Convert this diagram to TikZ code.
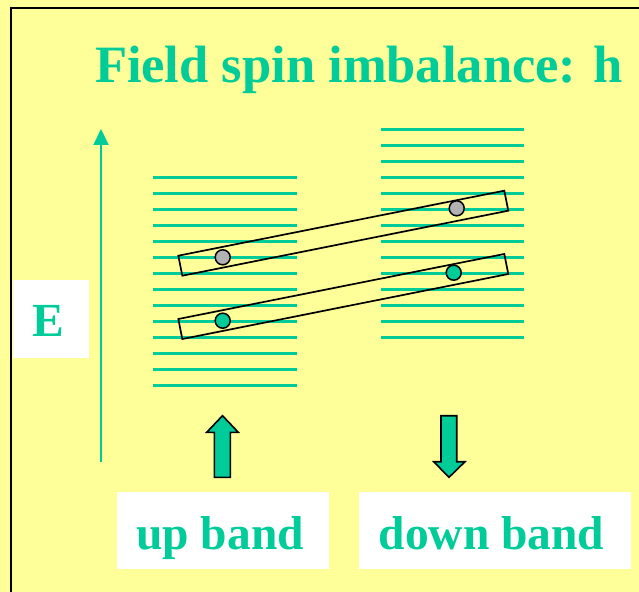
\documentclass[tikz,border=0pt]{standalone}
\usepackage{fontspec}
\setmainfont{Liberation Serif}
\usetikzlibrary{arrows.meta}
\definecolor{bgyellow}{HTML}{FFFF99}
\definecolor{tgreen}{HTML}{00CC99}
\definecolor{dotgray}{HTML}{B2B2B2}
\begin{document}
\begin{tikzpicture}[x=1bp,y=-1bp,
  level/.style={draw=tgreen, line width=2.8bp},
  whitebox/.style={fill=white, draw=none, inner sep=0pt},
  lbl/.style={text=tgreen, font=\fontsize{47.5bp}{50bp}\selectfont\bfseries, inner sep=0pt},
  pairbox/.style={draw=black, line width=1.7bp, rectangle, rotate=11.28, minimum width=332.4bp, minimum height=20.4bp, inner sep=0pt},
  dot/.style={circle, draw=black, line width=1.5bp, minimum size=15bp, inner sep=0pt},
  blockarrow/.style={fill=tgreen, draw=black, line width=1.6bp, line join=miter}]
\fill[bgyellow] (0,0) rectangle (639,592);
\useasboundingbox (0,0) rectangle (639,592);
% frame
\draw[black, line width=2bp] (10.5,592) -- (10.5,8) -- (639,8);
% title
\node[lbl, font=\fontsize{52.5bp}{56bp}\selectfont\bfseries, anchor=base] (title) at (359,83) {Field spin imbalance: h};
% energy axis
\coordinate (ebot) at (101,462);
\coordinate (etop) at (101,129);
\draw[tgreen, line width=2bp, -{Triangle[width=15bp,length=16bp]}] (ebot) -- (etop);
\node[whitebox, minimum width=76bp, minimum height=78bp] (ebox) at (51,319) {};
\node[lbl, anchor=base] (elabel) at (48,336) {E};
% bands
\foreach \i in {0,...,13}{
  \draw[level] (153,{177.5+16*\i}) -- (297,{177.5+16*\i});
  \draw[level] (380.5,{129.5+16*\i}) -- (523.5,{129.5+16*\i});
}
% pairing boxes
\node[pairbox] (boxA) at (343.3,233.2) {};
\node[pairbox] (boxB) at (343.3,296.5) {};
% dots
\node[dot, fill=dotgray] (gA) at (222.7,257.3) {};
\node[dot, fill=dotgray] (gB) at (456.7,208.3) {};
\node[dot, fill=tgreen] (cA) at (222.7,320.7) {};
\node[dot, fill=tgreen] (cB) at (453.7,272.7) {};
% block arrows
\draw[blockarrow] (214.3,477.3) -- (214.3,432.3) -- (206.7,432.3) -- (222.5,415.7) -- (238.3,432.3) -- (230.3,432.3) -- (230.3,477.3) -- cycle;
\draw[blockarrow] (441,415.7) -- (456.7,415.7) -- (456.7,461.7) -- (465,461.7) -- (449,477.3) -- (433.7,461.7) -- (441,461.7) -- cycle;
% band labels
\node[whitebox, minimum width=211.4bp, minimum height=77.6bp] (upbox) at (222.9,530.5) {};
\node[lbl, anchor=base] (uplabel) at (220,549) {up band};
\node[whitebox, minimum width=272.5bp, minimum height=77.6bp] (downbox) at (494.75,530.5) {};
\node[lbl, anchor=base] (downlabel) at (491.5,549) {down band};
\end{tikzpicture}
\end{document}
